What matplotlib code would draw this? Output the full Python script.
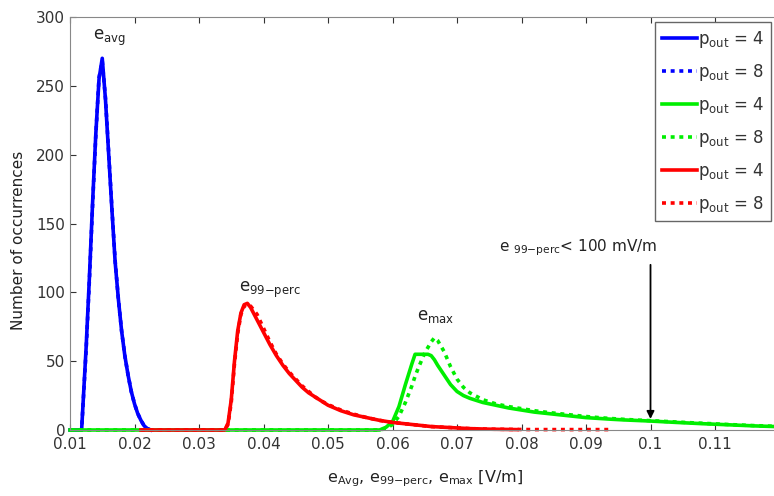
import numpy as np
import matplotlib
matplotlib.use("Agg")
import matplotlib.pyplot as plt

plt.rcParams['font.family'] = ['DejaVu Sans']
plt.rcParams['mathtext.fontset'] = 'dejavusans'
plt.rcParams['mathtext.default'] = 'regular'

## e_avg distribution (blue), p_out = 4 and 8 nearly identical
avg_x = [0.0100, 0.0118, 0.0125, 0.0130, 0.0135, 0.0140, 0.0145, 0.0150, 0.0155, 0.0160,
         0.0165, 0.0170, 0.0175, 0.0180, 0.0185, 0.0190, 0.0195, 0.0200, 0.0205, 0.0210,
         0.0215, 0.0220, 0.0225]
avg_y4 = [0, 0, 60, 110, 165, 215, 255, 270, 240, 200, 160, 122, 95, 72, 54, 40, 28, 19, 12, 7, 3, 1, 0]
avg_y8 = [0, 0, 58, 108, 163, 214, 256, 268, 241, 201, 161, 123, 95, 72, 54, 40, 28, 19, 12, 7, 3, 1, 0]

## e_max distribution (green)
max_x = [0.010, 0.058, 0.059, 0.060, 0.061, 0.062, 0.063, 0.0635, 0.064, 0.065, 0.0655, 0.066, 0.0665,
         0.067, 0.068, 0.069, 0.070, 0.071, 0.072, 0.074, 0.076, 0.078, 0.080, 0.082, 0.084,
         0.086, 0.088, 0.090, 0.092, 0.094, 0.096, 0.098, 0.100, 0.104, 0.108, 0.112, 0.116, 0.120]
max_y4 = [0, 0, 2, 6, 17, 33, 48, 55, 55, 55, 55, 54, 51,
          47, 40, 33, 28, 25, 23, 20, 18, 16, 14.5, 13, 12,
          11, 10, 9, 8.4, 7.8, 7.3, 6.9, 6.5, 5.5, 4.6, 3.8, 3.0, 2.4]
max_y8 = [0, 0, 1, 4, 10, 20, 32, 39, 45, 56, 60, 64, 67,
          65, 57, 46, 37, 31, 27, 22, 19, 17, 15.5, 14, 12.8,
          11.8, 10.8, 9.8, 9.0, 8.3, 7.7, 7.2, 6.8, 5.8, 4.9, 4.0, 3.2, 2.6]

## e_99-perc distribution (red)
perc_x = [0.021, 0.034, 0.0345, 0.035, 0.0355, 0.036, 0.0365, 0.037, 0.0375, 0.038, 0.039, 0.040,
          0.041, 0.042, 0.043, 0.044, 0.045, 0.046, 0.047, 0.048, 0.049, 0.050, 0.052, 0.054,
          0.056, 0.058, 0.060, 0.062, 0.064, 0.066, 0.068, 0.070, 0.072, 0.075, 0.0793]
perc_y4 = [0, 0, 5, 22, 50, 72, 85, 91, 92, 89, 80, 71,
           62, 54, 47, 41, 36, 31, 27, 24, 21, 18, 14, 11,
           9, 7, 5.5, 4.5, 3.5, 2.5, 2, 1.5, 1, 0.6, 0.3]
perc_x8 = perc_x + [0.082, 0.086, 0.090, 0.094]
perc_y8 = [0, 0, 4, 20, 48, 70, 84, 90, 91, 90, 84, 74,
           64, 55, 48, 42, 37, 32, 28, 24, 21, 18.5, 14.5, 11.5,
           9, 7, 5.5, 4.5, 3.5, 2.5, 2, 1.5, 1, 0.6, 0.4, 0.3, 0.3, 0.3, 0.3]

xticks = [0.01, 0.02, 0.03, 0.04, 0.05, 0.06, 0.07, 0.08, 0.09, 0.1, 0.11]
xtick_labels = ["0.01", "0.02", "0.03", "0.04", "0.05", "0.06", "0.07", "0.08", "0.09", "0.1", "0.11"]
yticks = [0, 50, 100, 150, 200, 250, 300]

fig = plt.figure(figsize=(7.74, 4.96), dpi=100)
ax = fig.add_axes([70/774, 66/496, 709.5/774, 413/496])

lw = 2.6
dots = (0, (1.1, 1.3))
ax.plot(avg_x, avg_y4, color='#0000ff', lw=lw, label=r'p$_{out}$ = 4', clip_on=False)
ax.plot(avg_x, avg_y8, color='#0000ff', lw=lw, ls=dots, label=r'p$_{out}$ = 8', clip_on=False)
ax.plot(max_x, max_y4, color='#00ee00', lw=lw, label=r'p$_{out}$ = 4', clip_on=False)
ax.plot(max_x, max_y8, color='#00ee00', lw=lw, ls=dots, label=r'p$_{out}$ = 8', clip_on=False)
ax.plot(perc_x, perc_y4, color='#ff0000', lw=lw, label=r'p$_{out}$ = 4', clip_on=False)
ax.plot(perc_x8, perc_y8, color='#ff0000', lw=lw, ls=dots, label=r'p$_{out}$ = 8', clip_on=False)

ax.set_xlim(0.01, 0.12)
ax.set_ylim(0, 300)
ax.set_xticks(xticks)
ax.set_xticklabels(xtick_labels)
ax.set_yticks(yticks)
ax.tick_params(direction='in', top=True, right=True, length=4, labelsize=11, colors='#333333')
ax.tick_params(axis='x', pad=5)
for s in ax.spines.values():
    s.set_color('#888888')

ax.set_ylabel('Number of occurrences', fontsize=11, color='#222222')
ax.yaxis.set_label_coords(-0.062, 0.46)
ax.set_xlabel(r'e$_{Avg}$, e$_{99\mathrm{-}perc}$, e$_{max}$ [V/m]', fontsize=11.5, color='#222222', labelpad=12)

ax.text(0.0136, 283, r'e$_{avg}$', fontsize=12, color='#222222')
ax.text(0.0362, 100, r'e$_{99\mathrm{-}perc}$', fontsize=12, color='#222222')
ax.text(0.0638, 80, r'e$_{max}$', fontsize=12, color='#222222')
ax.text(0.0765, 130, r'e $_{99\mathrm{-}perc}$< 100 mV/m', fontsize=11, color='#222222')
ax.annotate('', xy=(0.1, 6), xytext=(0.1, 122),
            arrowprops=dict(arrowstyle='-|>', color='black', lw=1.3, mutation_scale=11))

leg = ax.legend(loc='upper left', bbox_to_anchor=(0.8245, 0.988), borderaxespad=0,
                fontsize=12, handlelength=2.1, handletextpad=0.1, labelspacing=0.72,
                fancybox=False, framealpha=1, edgecolor='#666666', borderpad=0.4)
for t in leg.get_texts():
    t.set_color('#333333')

fig.savefig('out.png', dpi=100)
